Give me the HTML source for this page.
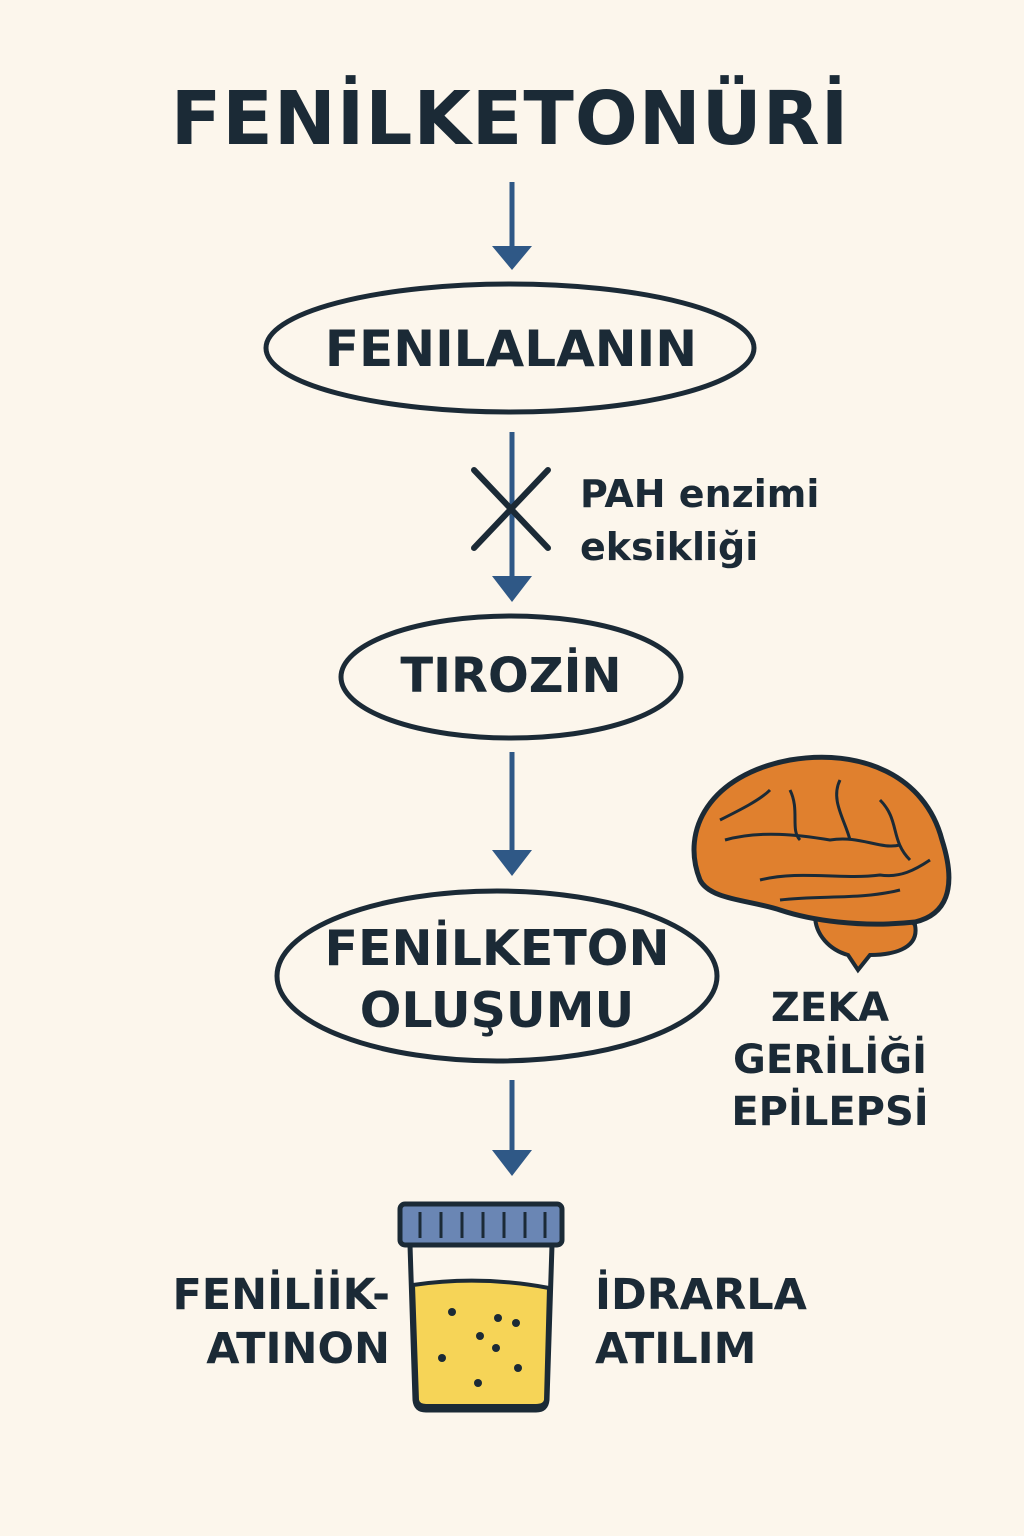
<!DOCTYPE html>
<html><head><meta charset="utf-8"><style>
body{margin:0;background:#fcf6ec;}
.w{position:relative;width:1024px;height:1536px;background:#fcf6ec;font-family:"DejaVu Sans","Liberation Sans",sans-serif;font-weight:bold;color:#1b2a36;}
.t{position:absolute;white-space:nowrap;}
</style></head><body><div class="w">
<svg width="1024" height="1536" style="position:absolute;left:0;top:0">
<g fill="#2f5886" stroke="#2f5886" stroke-width="5">
<line x1="512" y1="182" x2="512" y2="250"/><polygon points="492,246 532,246 512,270" stroke="none"/>
<line x1="512" y1="432" x2="512" y2="580"/><polygon points="492,576 532,576 512,602" stroke="none"/>
<line x1="512" y1="752" x2="512" y2="852"/><polygon points="492,850 532,850 512,876" stroke="none"/>
<line x1="512" y1="1080" x2="512" y2="1152"/><polygon points="492,1150 532,1150 512,1176" stroke="none"/>
</g>
<g stroke="#1b2a36" stroke-width="6" stroke-linecap="round">
<line x1="474" y1="470" x2="548" y2="548"/><line x1="548" y1="470" x2="474" y2="548"/>
</g>
<g fill="none" stroke="#1b2a36" stroke-width="5">
<ellipse cx="510" cy="348" rx="244" ry="64"/>
<ellipse cx="511" cy="677" rx="170" ry="61"/>
<ellipse cx="497" cy="976" rx="220" ry="85"/>
</g>
<path d="M815,915 C830,905 900,905 915,925 C920,950 890,955 870,955 L858,970 L848,955 C830,950 815,935 815,915 Z" fill="#e0802e" stroke="#1b2a36" stroke-width="4"/>
<path d="M700,880 C680,830 710,775 790,760 C860,748 925,775 942,840 C958,890 945,915 915,922 C860,928 810,920 780,910 C750,900 710,900 700,880 Z" fill="#e0802e" stroke="#1b2a36" stroke-width="5"/>
<g fill="none" stroke="#1b2a36" stroke-width="3">
<path d="M725,840 C760,830 800,835 830,840 C860,835 880,850 900,845"/>
<path d="M760,880 C800,870 840,880 880,875 C900,878 915,870 930,860"/>
<path d="M790,790 C800,810 790,830 800,840"/>
<path d="M840,780 C830,800 845,820 850,840"/>
<path d="M880,800 C900,820 890,840 910,860"/>
<path d="M720,820 C740,810 760,800 770,790"/>
<path d="M780,900 C820,895 860,900 900,890"/>
</g>
<path d="M410,1245 L415,1400 Q416,1410 426,1410 L536,1410 Q546,1410 547,1400 L552,1245 Z" fill="#fcf6ec" stroke="#1b2a36" stroke-width="5"/>
<path d="M413,1285 Q480,1275 549,1288 L546,1400 Q545,1406 536,1406 L426,1406 Q418,1406 417,1400 Z" fill="#f6d457" stroke="#1b2a36" stroke-width="4"/>
<rect x="400" y="1204" width="162" height="41" rx="5" fill="#6a86b4" stroke="#1b2a36" stroke-width="5"/>
<g stroke="#1b2a36" stroke-width="3"><line x1="420" y1="1212" x2="420" y2="1238"/><line x1="441" y1="1212" x2="441" y2="1238"/><line x1="462" y1="1212" x2="462" y2="1238"/><line x1="483" y1="1212" x2="483" y2="1238"/><line x1="504" y1="1212" x2="504" y2="1238"/><line x1="525" y1="1212" x2="525" y2="1238"/><line x1="545" y1="1212" x2="545" y2="1238"/></g>
<g fill="#1b2a36"><circle cx="452" cy="1312" r="4"/><circle cx="498" cy="1318" r="4"/><circle cx="516" cy="1323" r="4"/><circle cx="480" cy="1336" r="4"/><circle cx="442" cy="1358" r="4"/><circle cx="496" cy="1348" r="4"/><circle cx="518" cy="1368" r="4"/><circle cx="478" cy="1383" r="4"/></g>
</svg>
<div class="t" style="left:0;width:1020px;text-align:center;top:76px;font-size:74px;letter-spacing:1px">FENİLKETONÜRİ</div>
<div class="t" style="left:266px;width:490px;text-align:center;top:320px;font-size:50px">FENILALANIN</div>
<div class="t" style="left:580px;top:472px;font-size:38px">PAH enzimi</div>
<div class="t" style="left:580px;top:525px;font-size:38px">eksikliği</div>
<div class="t" style="left:340px;width:342px;text-align:center;top:648px;font-size:48px">TIROZİN</div>
<div class="t" style="left:277px;width:440px;text-align:center;top:918px;font-size:49px;line-height:62px">FENİLKETON<br>OLUŞUMU</div>
<div class="t" style="left:720px;width:220px;text-align:center;top:982px;font-size:40px;line-height:52px">ZEKA<br>GERİLİĞİ<br>EPİLEPSİ</div>
<div class="t" style="left:100px;width:290px;text-align:right;top:1268px;font-size:43px;line-height:54px">FENİLİİK-<br>ATINON</div>
<div class="t" style="left:595px;top:1268px;font-size:43px;line-height:54px">İDRARLA<br>ATILIM</div>
</div></body></html>
